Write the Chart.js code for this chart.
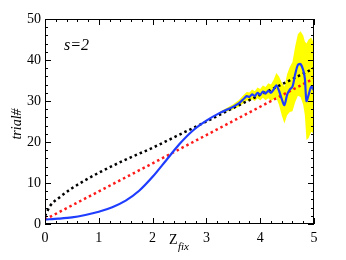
<!DOCTYPE html>
<html>
<head>
<meta charset="utf-8">
<script src="https://cdn.jsdelivr.net/npm/chart.js@4.4.0/dist/chart.umd.min.js"></script>
<style>
  html, body { margin: 0; padding: 0; background: #fff; }
  #wrap { width: 346px; height: 260px; }
</style>
</head>
<body>
<div id="wrap"><canvas id="chart" width="346" height="260"></canvas></div>
<script>
// Tick labels
const xTicks = [0, 1, 2, 3, 4, 5];
const yTicks = [0, 10, 20, 30, 40, 50];

// Black dotted curve
const blackZ = [0, 0.1, 0.25, 0.5, 0.75, 1, 1.5, 2, 2.5, 3, 3.5, 4, 4.5, 5];
const blackVals = [2.0, 4.5, 6.3, 8.7, 10.7, 12.5, 15.7, 18.6, 21.8, 25.0, 28.3, 31.5, 34.7, 38.0];

// Red dotted line
const redZ = [0, 1, 2, 3, 4, 5];
const redVals = [1.1, 7.95, 14.8, 21.7, 28.6, 35.5];

// Blue curve (mean)
const blueZ = [0, 0.25, 0.5, 0.75, 1, 1.25, 1.5, 1.75, 2, 2.25, 2.5, 2.75, 3,
  3.25, 3.5, 3.6, 3.7, 3.75, 3.8, 3.85, 3.9, 3.95, 4.0, 4.05, 4.1, 4.15, 4.2, 4.25,
  4.3, 4.35, 4.4, 4.45, 4.5, 4.55, 4.6, 4.65, 4.7, 4.75, 4.8, 4.83, 4.86, 4.9, 4.95, 5.0];
const blueVals = [1.1, 1.3, 1.6, 2.2, 3.0, 4.1, 5.7, 8.1, 11.5, 15.5, 19.5, 22.8, 25.2,
  27.1, 28.6, 29.4, 30.6, 31.2, 31.0, 31.6, 31.2, 32.0, 31.5, 32.3, 31.8, 32.5, 32.0, 32.8,
  33.8, 32.5, 30.5, 29.0, 31.5, 32.8, 33.5, 36.5, 38.8, 39.0, 37.5, 35.5, 30.0, 31.5, 33.5, 32.5];

// Yellow error band
const bandZ = [3.25, 3.5, 3.6, 3.7, 3.75, 3.8, 3.85, 3.9, 3.95, 4.0, 4.05, 4.1, 4.15, 4.2, 4.25,
  4.3, 4.35, 4.4, 4.45, 4.5, 4.55, 4.6, 4.65, 4.7, 4.75, 4.8, 4.83, 4.86, 4.9, 4.95, 5.0];
const bandUpper = [27.4, 29.2, 30.2, 31.6, 32.2, 32.1, 32.8, 32.4, 33.3, 32.9, 33.8, 33.4, 34.3, 34.0, 35.2,
  36.8, 36.0, 34.5, 33.5, 36.5, 38.3, 39.5, 43.3, 46.3, 47.0, 46.0, 44.5, 44.0, 45.0, 45.5, 44.0];
const bandLower = [26.8, 28.0, 28.6, 29.6, 30.2, 29.9, 30.4, 30.0, 30.7, 30.1, 30.8, 30.2, 30.7, 30.0, 30.4,
  30.8, 29.0, 26.5, 24.5, 26.5, 27.3, 27.5, 29.7, 31.3, 31.0, 29.0, 26.5, 20.5, 21.0, 22.5, 22.0];

function toPoints(xs, ys) {
  return xs.map((x, i) => ({ x: x, y: ys[i] }));
}

const serif = 'Liberation Serif';

// Draws the frame, inward ticks on all four sides and the text labels
const framePlugin = {
  id: 'frame',
  afterDraw(chart) {
    const ctx = chart.ctx;
    const a = chart.chartArea;
    const xs = chart.scales.x;
    const ys = chart.scales.y;
    ctx.save();
    ctx.strokeStyle = '#000';
    ctx.lineWidth = 1;
    ctx.strokeRect(a.left + 0.5, a.top + 0.5, a.right - a.left - 1, a.bottom - a.top - 1);

    ctx.beginPath();
    for (let v = 0; v <= 5.0001; v += 0.2) {
      const px = Math.round(xs.getPixelForValue(v)) + 0.5;
      const major = Math.abs(v - Math.round(v)) < 0.01;
      const len = major ? 6 : 3;
      ctx.moveTo(px, a.bottom);
      ctx.lineTo(px, a.bottom - len);
      ctx.moveTo(px, a.top);
      ctx.lineTo(px, a.top + len);
    }
    for (let v = 0; v <= 50; v += 2) {
      const py = Math.round(ys.getPixelForValue(v)) + 0.5;
      const len = v % 10 === 0 ? 6 : 3;
      ctx.moveTo(a.left, py);
      ctx.lineTo(a.left + len, py);
      ctx.moveTo(a.right, py);
      ctx.lineTo(a.right - len, py);
    }
    ctx.stroke();

    // panel label
    ctx.fillStyle = '#000';
    ctx.font = 'italic 16px ' + serif;
    ctx.textAlign = 'left';
    ctx.textBaseline = 'alphabetic';
    ctx.fillText('s=2', 64, 50);

    // x axis title with subscript
    ctx.font = '14px ' + serif;
    ctx.fillText('Z', 169, 244);
    ctx.font = 'italic 11px ' + serif;
    ctx.fillText('fix', 178, 250);

    // y axis title
    ctx.translate(21, 124);
    ctx.rotate(-Math.PI / 2);
    ctx.textAlign = 'center';
    ctx.font = 'italic 14px ' + serif;
    ctx.fillText('trial#', 0, 0);
    ctx.restore();
  }
};

const config = {
  type: 'line',
  data: {
    datasets: [
      {
        label: 'upper',
        order: 10,
        data: toPoints(bandZ, bandUpper),
        borderWidth: 0,
        borderColor: 'rgba(0,0,0,0)',
        backgroundColor: '#ffff00',
        fill: false,
        pointRadius: 0
      },
      {
        label: 'lower',
        order: 9,
        data: toPoints(bandZ, bandLower),
        borderWidth: 0,
        borderColor: 'rgba(0,0,0,0)',
        backgroundColor: '#ffff00',
        fill: '-1',
        pointRadius: 0
      },
      {
        label: 'red',
        order: 3,
        data: toPoints(redZ, redVals),
        borderColor: '#ff1a1a',
        borderWidth: 2.5,
        borderDash: [2.5, 3],
        pointRadius: 0
      },
      {
        label: 'black',
        order: 2,
        data: toPoints(blackZ, blackVals),
        borderColor: '#000000',
        borderWidth: 2.5,
        borderDash: [2.5, 3],
        cubicInterpolationMode: 'monotone',
        pointRadius: 0
      },
      {
        label: 'blue',
        order: 1,
        data: toPoints(blueZ, blueVals),
        borderColor: '#1f3dff',
        borderWidth: 2.2,
        tension: 0.3,
        pointRadius: 0
      }
    ]
  },
  options: {
    responsive: false,
    animation: false,
    layout: { padding: { top: 19, right: 32, left: 0, bottom: 0 } },
    plugins: {
      legend: { display: false },
      tooltip: { enabled: false }
    },
    scales: {
      x: {
        type: 'linear',
        min: 0,
        max: 5,
        afterFit: scale => { scale.height = 36; },
        afterBuildTicks: scale => { scale.ticks = xTicks.map(v => ({ value: v })); },
        grid: { display: false, drawTicks: false },
        border: { display: false },
        ticks: {
          color: '#000',
          padding: 6,
          maxRotation: 0,
          font: { family: serif, size: 14 }
        }
      },
      y: {
        min: 0,
        max: 50,
        afterFit: scale => { scale.width = 45; },
        afterBuildTicks: scale => { scale.ticks = yTicks.map(v => ({ value: v })); },
        grid: { display: false, drawTicks: false },
        border: { display: false },
        ticks: {
          color: '#000',
          padding: 4,
          font: { family: serif, size: 14 }
        }
      }
    }
  },
  plugins: [framePlugin]
};

new Chart(document.getElementById('chart').getContext('2d'), config);
</script>
</body>
</html>
